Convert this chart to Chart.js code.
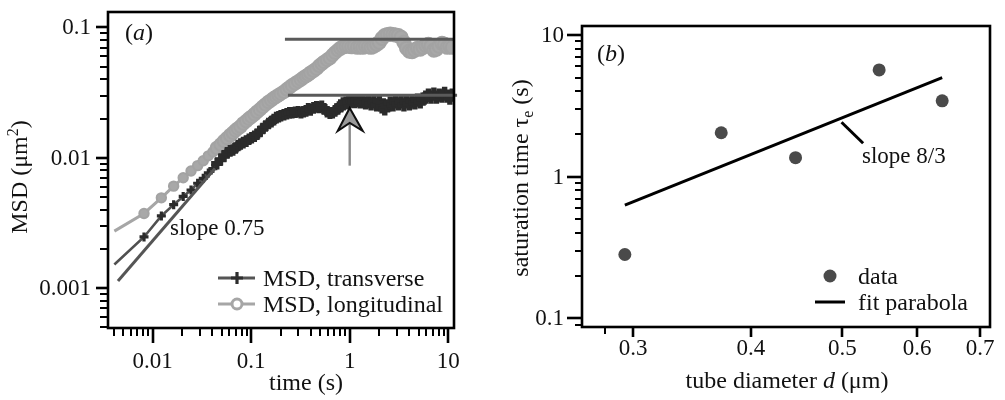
<!DOCTYPE html>
<html>
<head>
<meta charset="utf-8">
<script src="https://cdn.jsdelivr.net/npm/chart.js@4/dist/chart.umd.min.js"></script>
<style>
  html, body { margin: 0; padding: 0; background: #fff; }
  #wrap { position: relative; width: 1005px; height: 400px; overflow: hidden; }
  #ca { position: absolute; left: 0; top: 0; }
  #cb { position: absolute; left: 500px; top: 0; }
</style>
</head>
<body>
<div id="wrap">
  <canvas id="ca" width="500" height="400"></canvas>
  <canvas id="cb" width="505" height="400"></canvas>
</div>
<script>
// ---------- panel (a): mean squared displacement vs lag time ----------
const lagTime = [0.00408, 0.00816, 0.01224, 0.01632, 0.0204, 0.0245, 0.0286, 0.0326, 0.0367, 0.0408,
  0.0449, 0.049, 0.053, 0.057, 0.0612, 0.0653, 0.0694, 0.0734, 0.078, 0.083,
  0.089, 0.095, 0.101, 0.108, 0.115, 0.123, 0.131, 0.14, 0.15, 0.16,
  0.17, 0.18, 0.19, 0.2, 0.215, 0.23, 0.245, 0.26, 0.28, 0.3,
  0.32, 0.34, 0.36, 0.38, 0.4, 0.43, 0.46, 0.49, 0.52, 0.55,
  0.59, 0.63, 0.67, 0.71, 0.76, 0.81, 0.86, 0.92, 0.98, 1.05,
  1.12, 1.2, 1.28, 1.36, 1.45, 1.55, 1.65, 1.76, 1.88, 2.0,
  2.13, 2.27, 2.42, 2.58, 2.75, 2.93, 3.12, 3.33, 3.55, 3.78,
  4.03, 4.3, 4.58, 4.88, 5.2, 5.55, 5.92, 6.3, 6.7, 7.15,
  7.6, 8.1, 8.65, 9.2, 9.8, 10.4, 11.0];

const msdTransverse = [0.00152, 0.00247, 0.00358, 0.00437, 0.00505, 0.00566, 0.00638, 0.00696, 0.00765, 0.00827,
  0.00902, 0.00966, 0.01035, 0.01090, 0.01129, 0.01148, 0.01189, 0.01241, 0.01274, 0.01307,
  0.01341, 0.01388, 0.01425, 0.01462, 0.01514, 0.01594, 0.01679, 0.01754, 0.01831, 0.01895,
  0.01962, 0.02031, 0.02066, 0.02102, 0.02138, 0.02176, 0.02214, 0.02214, 0.02233, 0.02253,
  0.02214, 0.02253, 0.02291, 0.02371, 0.02331, 0.02413, 0.02455, 0.02434, 0.02477, 0.02371,
  0.02253, 0.02195, 0.02214, 0.02291, 0.02371, 0.02497, 0.02586, 0.02630, 0.02677, 0.02723,
  0.02700, 0.02748, 0.02677, 0.02723, 0.02630, 0.02677, 0.02586, 0.02677, 0.02542, 0.02723,
  0.02455, 0.02371, 0.02497, 0.02630, 0.02542, 0.02677, 0.02586, 0.02677, 0.02542, 0.02677,
  0.02586, 0.02723, 0.02630, 0.02772, 0.02677, 0.02818, 0.02917, 0.0302, 0.02917, 0.03073,
  0.02917, 0.0302, 0.02968, 0.03126, 0.02968, 0.02870, 0.0302];

const msdLongitudinal = [0.00274, 0.00374, 0.00493, 0.00606, 0.00702, 0.00792, 0.00871, 0.00950, 0.01035, 0.01109,
  0.01189, 0.01262, 0.01341, 0.01413, 0.01488, 0.01554, 0.01622, 0.01679, 0.01738, 0.01831,
  0.01911, 0.01995, 0.02065, 0.02157, 0.02253, 0.02350, 0.02455, 0.02564, 0.02677, 0.02772,
  0.02870, 0.02944, 0.0302, 0.0310, 0.0321, 0.0335, 0.0347, 0.0359, 0.0372, 0.0385,
  0.0398, 0.0412, 0.0423, 0.0434, 0.0449, 0.0465, 0.0482, 0.0507, 0.0525, 0.0543,
  0.0563, 0.0582, 0.0613, 0.0640, 0.0669, 0.0692, 0.0710, 0.0717, 0.0717, 0.0710,
  0.0717, 0.0704, 0.0710, 0.0704, 0.0717, 0.0710, 0.0704, 0.0717, 0.0742, 0.0768,
  0.0823, 0.0866, 0.0882, 0.0889, 0.0882, 0.0874, 0.0866, 0.0837, 0.0768, 0.0692,
  0.0657, 0.0651, 0.0669, 0.0692, 0.0680, 0.0704, 0.0729, 0.0742, 0.0717, 0.0669,
  0.0680, 0.0717, 0.0755, 0.0742, 0.0704, 0.0717, 0.0704];

// short-time power-law guide and the two saturation levels
const slopeLineTime = [0.00444, 0.0429];
const slopeLineMsd = [0.001135, 0.00827];
const plateauLongTime = [0.22, 11.45];
const plateauLongMsd = [0.081, 0.081];
const plateauTransTime = [0.236, 12.3];
const plateauTransMsd = [0.0302, 0.0302];
// arrow marking the saturation time of the transverse MSD
const arrowTime = 1.0;
const arrowTipMsd = 0.0241;
const arrowTailMsd = 0.0087;

const timeTickLabels = [0.01, 0.1, 1, 10];
const msdTickLabels = [0.001, 0.01, 0.1];
const timeRange = [0.003517, 11.45];
const msdRange = [0.000495, 0.1312];

// ---------- panel (b): saturation time vs tube diameter ----------
const tubeDiameter = [0.294, 0.372, 0.446, 0.547, 0.638];
const saturationTime = [0.282, 2.04, 1.36, 5.67, 3.43];
const fitDiameter = [0.294, 0.638];
const fitTime = [0.63, 5.0];
const slopePointerD = [0.499, 0.526];
const slopePointerTau = [2.42, 1.72];

const diameterTickLabels = [0.3, 0.4, 0.5, 0.6, 0.7];
const diameterExtraTicks = [0.28];
const tauTickLabels = [0.1, 1, 10];
const diameterRange = [0.2648, 0.717];
const tauRange = [0.0868, 11.57];

// ---------- drawing helpers ----------
const FAMILY = '"Liberation Serif", "Times New Roman", serif';
const fnt = (size, italic) => (italic ? 'italic ' : '') + size + 'px ' + FAMILY;
const pairs = (xs, ys) => xs.map((x, i) => ({ x: x, y: ys[i] }));

function minorValues(min, max) {
  const out = [];
  for (let e = Math.floor(Math.log10(min)); e <= Math.ceil(Math.log10(max)); e++) {
    for (let m = 2; m <= 9; m++) {
      const v = m * Math.pow(10, e);
      if (v >= min && v <= max) out.push(v);
    }
  }
  return out;
}

function fmt(v) {
  return String(parseFloat(v.toPrecision(6)));
}

function ticksX(ctx, scale, area, values, len, width) {
  ctx.lineWidth = width;
  values.forEach(v => {
    const px = Math.round(scale.getPixelForValue(v));
    ctx.beginPath();
    ctx.moveTo(px, area.bottom);
    ctx.lineTo(px, area.bottom + len);
    ctx.stroke();
  });
}

function ticksY(ctx, scale, area, values, len, width) {
  ctx.lineWidth = width;
  values.forEach(v => {
    const py = Math.round(scale.getPixelForValue(v));
    ctx.beginPath();
    ctx.moveTo(area.left - len, py);
    ctx.lineTo(area.left, py);
    ctx.stroke();
  });
}

// draw a run of text pieces (plain / italic / sub / sup) centred or left-aligned
function richText(ctx, parts, x, y, size, align, rotate) {
  ctx.save();
  ctx.translate(x, y);
  if (rotate) ctx.rotate(-Math.PI / 2);
  ctx.textBaseline = 'alphabetic';
  ctx.textAlign = 'left';
  const specs = parts.map(p => {
    const s = (p.sub || p.sup) ? Math.round(size * 0.68) : size;
    ctx.font = fnt(s, p.italic);
    return { p: p, s: s, w: ctx.measureText(p.t).width };
  });
  const total = specs.reduce((a, b) => a + b.w, 0);
  let cx = align === 'center' ? -total / 2 : 0;
  const base = size * 0.33;
  specs.forEach(sp => {
    ctx.font = fnt(sp.s, sp.p.italic);
    let dy = 0;
    if (sp.p.sup) dy = -size * 0.38;
    if (sp.p.sub) dy = size * 0.22;
    ctx.fillText(sp.p.t, cx, base + dy);
    cx += sp.w;
  });
  ctx.restore();
}

function frame(ctx, area) {
  ctx.strokeStyle = '#000';
  ctx.lineWidth = 2.6;
  ctx.strokeRect(area.left, area.top, area.right - area.left, area.bottom - area.top);
}

// marker sizes: the sparse early lags show single symbols, the dense tail merges into a band
const markerSize = (n, first, early, mid, second, late) =>
  Array.from({ length: n }, (_, i) => (i === 0 ? 0 : (i < first ? early : (i < second ? mid : late))));

// ---------- panel (a) ----------
const panelA = {
  id: 'panelA',
  afterDraw(chart) {
    const ctx = chart.ctx, area = chart.chartArea;
    const xs = chart.scales.x, ys = chart.scales.y;
    ctx.save();

    // saturation arrow
    const ax = xs.getPixelForValue(arrowTime);
    const tipY = ys.getPixelForValue(arrowTipMsd);
    const tailY = ys.getPixelForValue(arrowTailMsd);
    ctx.strokeStyle = '#8a8a8a';
    ctx.lineWidth = 2.4;
    ctx.beginPath();
    ctx.moveTo(ax, tailY);
    ctx.lineTo(ax, tipY + 14);
    ctx.stroke();
    ctx.beginPath();
    ctx.moveTo(ax, tipY);
    ctx.lineTo(ax + 13, tipY + 23);
    ctx.lineTo(ax, tipY + 15);
    ctx.lineTo(ax - 12, tipY + 23);
    ctx.closePath();
    ctx.fillStyle = '#9a9a9a';
    ctx.fill();
    ctx.strokeStyle = '#111';
    ctx.lineWidth = 2;
    ctx.lineJoin = 'miter';
    ctx.stroke();

    frame(ctx, area);
    ctx.strokeStyle = '#000';
    ticksX(ctx, xs, area, minorValues(timeRange[0], timeRange[1]), 8, 2);
    ticksX(ctx, xs, area, timeTickLabels, 15, 2.6);
    ticksY(ctx, ys, area, minorValues(msdRange[0], msdRange[1]), 8, 2);
    ticksY(ctx, ys, area, msdTickLabels, 12, 2.6);

    ctx.fillStyle = '#111';
    ctx.font = fnt(23);
    ctx.textBaseline = 'middle';
    ctx.textAlign = 'center';
    timeTickLabels.forEach(v => ctx.fillText(fmt(v), xs.getPixelForValue(v), area.bottom + 34));
    ctx.textAlign = 'right';
    msdTickLabels.forEach(v => ctx.fillText(fmt(v), area.left - 17, ys.getPixelForValue(v) + 1));

    // axis titles
    richText(ctx, [{ t: 'time (s)' }], 306, 382, 24, 'center');
    richText(ctx, [{ t: 'MSD (\u03bcm' }, { t: '2', sup: true }, { t: ')' }], 19, 177, 24, 'center', true);

    // panel tag and slope note
    richText(ctx, [{ t: '(' }, { t: 'a', italic: true }, { t: ')' }], 125, 32, 24, 'left');
    richText(ctx, [{ t: 'slope 0.75' }], 170, 227, 23, 'left');

    // legend
    const lx0 = 218, lx1 = 255, lmx = 237;
    ctx.lineWidth = 3;
    ctx.strokeStyle = '#555';
    ctx.beginPath(); ctx.moveTo(lx0, 278); ctx.lineTo(lx1, 278); ctx.stroke();
    ctx.strokeStyle = '#2e2e2e';
    ctx.lineWidth = 3.2;
    ctx.beginPath();
    ctx.moveTo(lmx - 6, 278); ctx.lineTo(lmx + 6, 278);
    ctx.moveTo(lmx, 272); ctx.lineTo(lmx, 284);
    ctx.stroke();
    ctx.strokeStyle = '#a6a6a6';
    ctx.lineWidth = 3;
    ctx.beginPath(); ctx.moveTo(lx0, 304); ctx.lineTo(lmx - 5, 304); ctx.moveTo(lmx + 5, 304); ctx.lineTo(lx1, 304); ctx.stroke();
    ctx.beginPath(); ctx.arc(lmx, 304, 5, 0, Math.PI * 2); ctx.stroke();
    richText(ctx, [{ t: 'MSD, transverse' }], 263, 278, 24, 'left');
    richText(ctx, [{ t: 'MSD, longitudinal' }], 263, 304, 24, 'left');

    ctx.restore();
  }
};

new Chart(document.getElementById('ca'), {
  type: 'line',
  data: {
    datasets: [
      { data: pairs(plateauLongTime, plateauLongMsd), borderColor: '#5a5a5a', borderWidth: 3, pointRadius: 0, order: 0 },
      { data: pairs(plateauTransTime, plateauTransMsd), borderColor: '#5a5a5a', borderWidth: 3, pointRadius: 0, order: 0, clip: 6 },
      { data: pairs(slopeLineTime, slopeLineMsd), borderColor: '#555', borderWidth: 3, pointRadius: 0, order: 0 },
      {
        label: 'MSD, transverse', data: pairs(lagTime, msdTransverse),
        borderColor: '#505050', borderWidth: 2.6,
        pointStyle: 'cross',
        pointRadius: markerSize(lagTime.length, 10, 4.5, 5.8, 55, 6.6),
        pointBorderWidth: markerSize(lagTime.length, 10, 3.2, 5, 55, 5.4),
        pointBorderColor: '#2b2b2b', order: 1
      },
      {
        label: 'MSD, longitudinal', data: pairs(lagTime, msdLongitudinal),
        borderColor: '#a6a6a6', borderWidth: 3,
        pointStyle: 'circle',
        pointRadius: markerSize(lagTime.length, 10, 4.7, 6.3, 55, 6.6),
        pointBorderColor: '#a3a3a3', pointBackgroundColor: '#a8a8a8', pointBorderWidth: 2, order: 2
      }
    ]
  },
  options: {
    responsive: false, animation: false, events: [],
    layout: { padding: { left: 108, right: 46, top: 5, bottom: 72 } },
    plugins: { legend: { display: false }, tooltip: { enabled: false } },
    elements: { line: { tension: 0 } },
    scales: {
      x: { type: 'logarithmic', min: timeRange[0], max: timeRange[1], display: false },
      y: { type: 'logarithmic', min: msdRange[0], max: msdRange[1], display: false }
    }
  },
  plugins: [panelA]
});

// ---------- panel (b) ----------
const panelB = {
  id: 'panelB',
  afterDraw(chart) {
    const ctx = chart.ctx, area = chart.chartArea;
    const xs = chart.scales.x, ys = chart.scales.y;
    ctx.save();

    // pointer from the fit line to its label
    ctx.strokeStyle = '#000';
    ctx.lineWidth = 3;
    ctx.beginPath();
    ctx.moveTo(xs.getPixelForValue(slopePointerD[0]), ys.getPixelForValue(slopePointerTau[0]));
    ctx.lineTo(xs.getPixelForValue(slopePointerD[1]), ys.getPixelForValue(slopePointerTau[1]));
    ctx.stroke();

    frame(ctx, area);
    ctx.strokeStyle = '#000';
    ticksX(ctx, xs, area, diameterExtraTicks, 7, 2);
    ticksX(ctx, xs, area, diameterTickLabels, 10, 2.6);
    ticksY(ctx, ys, area, minorValues(tauRange[0], tauRange[1]), 7, 2);
    ticksY(ctx, ys, area, tauTickLabels, 15, 2.6);

    ctx.fillStyle = '#111';
    ctx.font = fnt(23);
    ctx.textBaseline = 'middle';
    ctx.textAlign = 'center';
    diameterTickLabels.forEach(v => ctx.fillText(fmt(v), xs.getPixelForValue(v), area.bottom + 22));
    ctx.textAlign = 'right';
    tauTickLabels.forEach(v => ctx.fillText(fmt(v), area.left - 18, ys.getPixelForValue(v) + 1));

    richText(ctx, [{ t: 'tube diameter ' }, { t: 'd', italic: true }, { t: ' (\u03bcm)' }], 287, 380, 24, 'center');
    richText(ctx, [{ t: 'saturation time \u03c4' }, { t: 'e', sub: true }, { t: ' (s)' }], 20, 178, 24, 'center', true);

    richText(ctx, [{ t: '(' }, { t: 'b', italic: true }, { t: ')' }], 97, 53, 24, 'left');
    richText(ctx, [{ t: 'slope 8/3' }], 362, 155, 23, 'left');

    // legend
    ctx.fillStyle = '#4a4a4a';
    ctx.beginPath(); ctx.arc(330, 276, 6.5, 0, Math.PI * 2); ctx.fill();
    ctx.strokeStyle = '#000';
    ctx.lineWidth = 3;
    ctx.beginPath(); ctx.moveTo(315, 302); ctx.lineTo(345, 302); ctx.stroke();
    ctx.fillStyle = '#111';
    richText(ctx, [{ t: 'data' }], 358, 276, 24, 'left');
    richText(ctx, [{ t: 'fit parabola' }], 358, 302, 24, 'left');

    ctx.restore();
  }
};

new Chart(document.getElementById('cb'), {
  type: 'scatter',
  data: {
    datasets: [
      { type: 'line', label: 'fit parabola', data: pairs(fitDiameter, fitTime), borderColor: '#000', borderWidth: 3, pointRadius: 0, order: 0 },
      { label: 'data', data: pairs(tubeDiameter, saturationTime), pointRadius: 6.5, pointBackgroundColor: '#4a4a4a', pointBorderColor: '#4a4a4a', pointBorderWidth: 0, order: 1 }
    ]
  },
  options: {
    responsive: false, animation: false, events: [],
    layout: { padding: { left: 82, right: 15, top: 26, bottom: 73 } },
    plugins: { legend: { display: false }, tooltip: { enabled: false } },
    scales: {
      x: { type: 'logarithmic', min: diameterRange[0], max: diameterRange[1], display: false },
      y: { type: 'logarithmic', min: tauRange[0], max: tauRange[1], display: false }
    }
  },
  plugins: [panelB]
});
</script>
</body>
</html>
